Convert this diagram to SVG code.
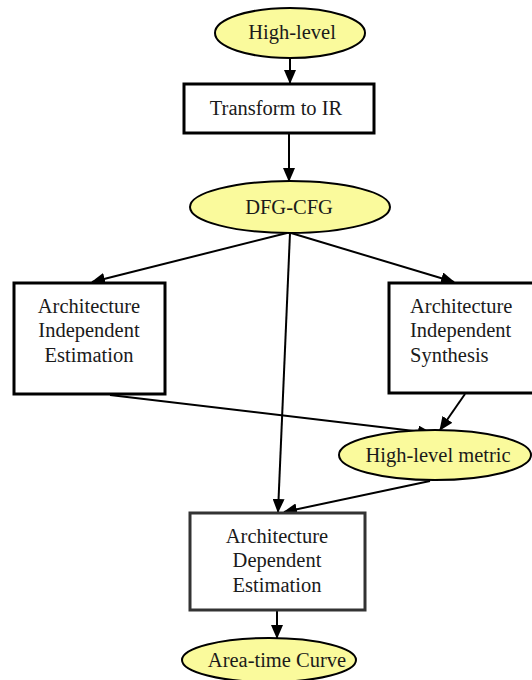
<svg xmlns="http://www.w3.org/2000/svg" width="532" height="680" viewBox="0 0 532 680">
<style>
text{font-family:"Liberation Serif","DejaVu Serif",serif;font-size:20.5px;fill:#1a1a1a;text-anchor:middle}
.ell{fill:#fafa9c;stroke:#000;stroke-width:2}
.box{fill:#fff;stroke:#000;stroke-width:3}
.box2{fill:#fff;stroke:#333;stroke-width:3}
.con{stroke:#000;stroke-width:2;fill:none;marker-end:url(#ah)}
</style>
<defs>
<marker id="ah" markerUnits="userSpaceOnUse" markerWidth="14" markerHeight="12" viewBox="0 0 14 12" refX="13" refY="6" orient="auto">
<path d="M0,0 L14,6 L0,12 Z" fill="#000"/>
</marker>
</defs>
<rect width="532" height="680" fill="#fff"/>
<g id="connectors">
<line class="con" x1="290" y1="58" x2="290" y2="83"/>
<line class="con" x1="289" y1="134" x2="289" y2="181"/>
<line class="con" x1="287" y1="233" x2="92" y2="282"/>
<line class="con" x1="291" y1="233" x2="454" y2="282"/>
<line class="con" x1="290" y1="233" x2="278" y2="512"/>
<line class="con" x1="110" y1="395" x2="431" y2="433"/>
<line class="con" x1="465" y1="394" x2="440" y2="430"/>
<line class="con" x1="430" y1="481" x2="284" y2="512"/>
<line class="con" x1="277" y1="611" x2="277" y2="638"/>
</g>
<g id="n-highlevel">
<ellipse class="ell" cx="290" cy="33" rx="75" ry="25"/>
<text x="292" y="39" font-family="Liberation Serif, serif">High-level</text>
</g>
<g id="n-transform">
<rect class="box" x="184" y="84" width="190" height="49"/>
<text x="276" y="115">Transform to IR</text>
</g>
<g id="n-dfgcfg">
<ellipse class="ell" cx="290" cy="207" rx="100" ry="26"/>
<text x="289" y="214">DFG-CFG</text>
</g>
<g id="n-aie">
<rect class="box" x="14" y="283" width="151" height="111"/>
<text x="89" y="313">Architecture</text>
<text x="89" y="337">Independent</text>
<text x="89" y="362">Estimation</text>
</g>
<g id="n-ais">
<rect class="box" x="389" y="283" width="150" height="110"/>
<text x="410" y="313" style="text-anchor:start">Architecture</text>
<text x="410" y="337" style="text-anchor:start">Independent</text>
<text x="410" y="362" style="text-anchor:start">Synthesis</text>
</g>
<g id="n-hlm">
<ellipse class="ell" cx="435" cy="455" rx="96" ry="25"/>
<text x="438" y="462">High-level metric</text>
</g>
<g id="n-ade">
<rect class="box2" x="190" y="513" width="175" height="97"/>
<text x="277" y="543">Architecture</text>
<text x="277" y="567">Dependent</text>
<text x="277" y="592">Estimation</text>
</g>
<g id="n-atc">
<ellipse class="ell" cx="269" cy="660" rx="87" ry="22"/>
<text x="277" y="667">Area-time Curve</text>
</g>
</svg>
